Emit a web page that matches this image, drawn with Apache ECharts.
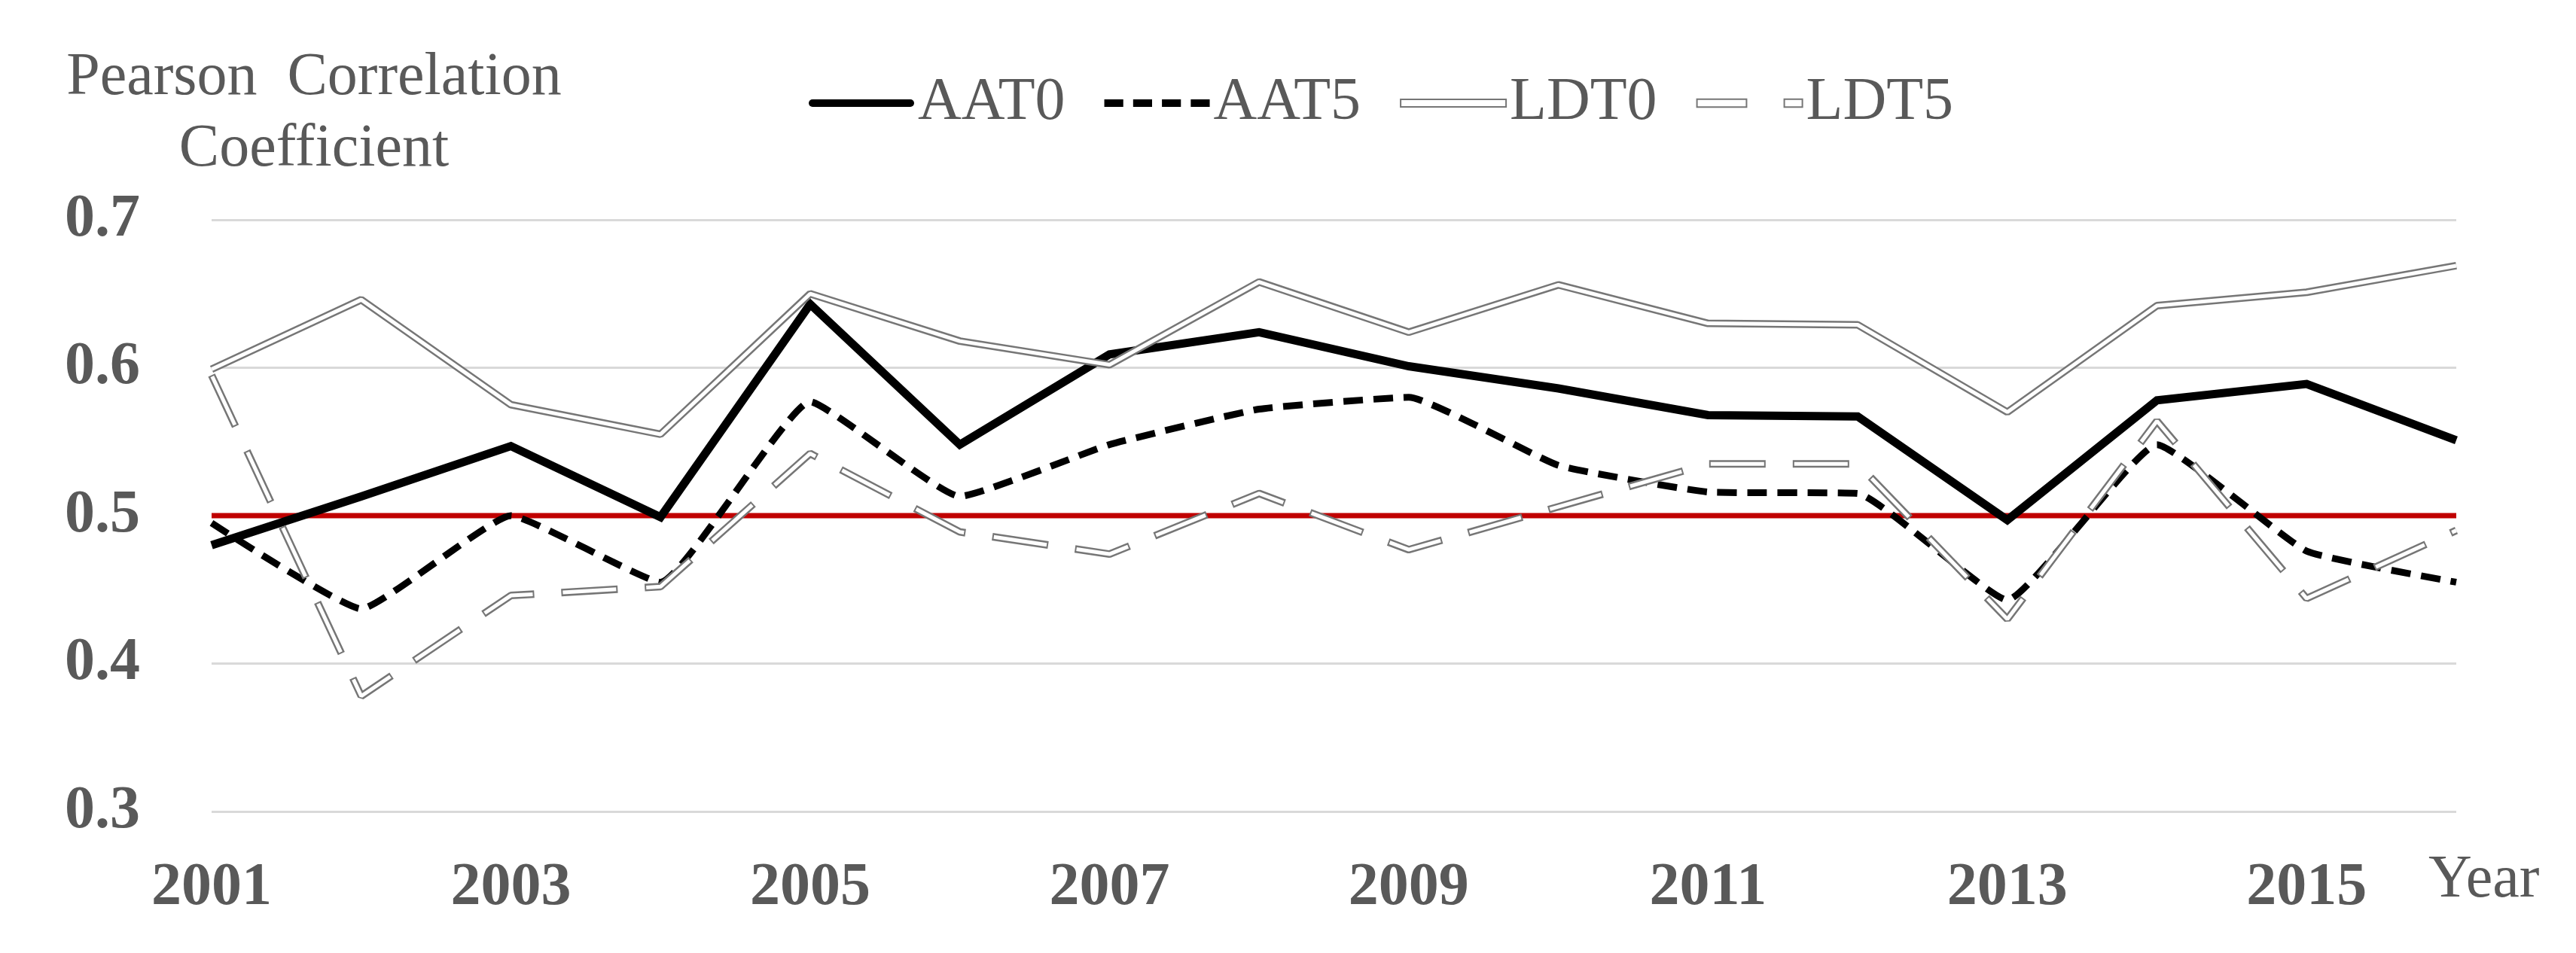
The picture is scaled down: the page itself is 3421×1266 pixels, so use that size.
<!DOCTYPE html>
<html>
<head>
<meta charset="utf-8">
<script src="https://cdn.jsdelivr.net/npm/echarts@6/dist/echarts.min.js"></script>
<style>html,body{margin:0;padding:0;background:#fff;}#c{width:3421px;height:1266px;}</style>
</head>
<body>
<div id="c"></div>
<script>
const years = ['2001','2002','2003','2004','2005','2006','2007','2008','2009','2010','2011','2012','2013','2014','2015','2016'];
const aat0 = [0.480,0.513,0.547,0.499,0.643,0.548,0.609,0.624,0.601,0.586,0.568,0.567,0.497,0.578,0.589,0.551];
const aat5 = [0.495,0.437,0.500,0.455,0.577,0.513,0.548,0.572,0.580,0.534,0.516,0.515,0.443,0.548,0.476,0.455];
const ldt0 = [0.599,0.646,0.575,0.555,0.650,0.618,0.602,0.658,0.624,0.656,0.630,0.629,0.570,0.642,0.651,0.669];
const ldt5 = [0.595,0.378,0.446,0.452,0.542,0.489,0.474,0.515,0.477,0.506,0.535,0.535,0.430,0.564,0.444,0.490];
const yTicks = [0.3,0.4,0.5,0.6,0.7];
const threshold = 0.5;

const FONT = 'Liberation Serif';
const GREY = '#595959';
const chart = echarts.init(document.getElementById('c'), null, {renderer:'canvas'});
chart.setOption({
  animation:false,
  backgroundColor:'#fff',
  grid:{left:281, right:159, top:292, bottom:188, containLabel:false},
  xAxis:{
    type:'category', data:years, boundaryGap:false,
    axisLine:{show:false}, axisTick:{show:false},
    axisLabel:{interval:1, fontFamily:FONT, fontWeight:'bold', fontSize:80, color:GREY, margin:62}
  },
  yAxis:{
    type:'value', min:yTicks[0], max:yTicks[yTicks.length-1], interval:0.1,
    axisLine:{show:false}, axisTick:{show:false},
    axisLabel:{fontFamily:FONT, fontWeight:'bold', fontSize:80, color:GREY, margin:95, formatter:v=>v.toFixed(1)},
    splitLine:{lineStyle:{color:'#D9D9D9', width:3}}
  },
  legend:{
    left:1069, top:92, itemWidth:140, itemHeight:13, itemGap:52,
    textStyle:{fontFamily:FONT, fontSize:80, color:GREY},
    data:[
      {name:'AAT0', icon:'path://M5,0H135A5,5 0 0 1 135,10H5A5,5 0 0 1 5,0Z', itemStyle:{color:'#000', borderWidth:0}},
      {name:'AAT5', icon:'path://M0,0H25V10H0Z M38,0H63V10H38Z M76,0H101V10H76Z M114,0H139V10H114Z', itemStyle:{color:'#000', borderWidth:0}},
      {name:'LDT0', icon:'path://M0,0H140V10H0Z', itemStyle:{color:'#fff', borderColor:'#767676', borderWidth:2}},
      {name:'LDT5', icon:'path://M0,0H63V10H0Z M111,0H134V10H111Z', itemStyle:{color:'#fff', borderColor:'#767676', borderWidth:2}}
    ]
  },
  graphic:[
    {type:'text', x:417, y:56, style:{text:'Pearson  Correlation\nCoefficient', fontFamily:FONT, fontSize:80, fill:GREY, textAlign:'center', textVerticalAlign:'top', lineHeight:95}},
    {type:'text', x:3225, y:1130, style:{text:'Year', fontFamily:FONT, fontSize:80, fill:GREY, textAlign:'left', textVerticalAlign:'top'}}
  ],
  series:[
    {name:'ref', type:'line', data:years.map(()=>threshold), symbol:'none', silent:true, z:1,
      lineStyle:{color:'#C00000', width:7}},
    {name:'AAT0', type:'line', data:aat0, symbol:'none', z:3, color:'#000',
      lineStyle:{color:'#000', width:11, join:'miter'}},
    {name:'AAT5', type:'line', data:aat5, symbol:'none', z:3, color:'#000', smooth:0.12,
      lineStyle:{color:'#000', width:9, type:[26,14]}},
    {name:'LDT0', type:'line', data:ldt0, symbol:'none', z:4, color:'#767676',
      lineStyle:{color:'#767676', width:10}},
    {name:'LDT0_in', type:'line', data:ldt0, symbol:'none', z:5, silent:true,
      lineStyle:{color:'#fff', width:5}},
    {name:'LDT5', type:'line', data:ldt5, symbol:'none', z:6, color:'#767676',
      lineStyle:{color:'#767676', width:10, type:[75,36]}},
    {name:'LDT5_in', type:'line', data:ldt5, symbol:'none', z:7, silent:true,
      lineStyle:{color:'#fff', width:5, type:[71,40], dashOffset:-2}}
  ]
});
</script>
</body>
</html>
